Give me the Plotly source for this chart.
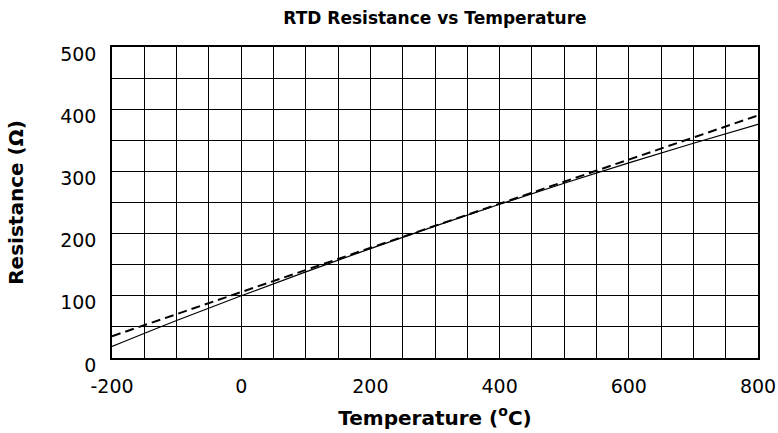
import plotly.graph_objects as go

temp_actual = [-200, -100, 0, 100, 200, 300, 400, 500, 600, 700, 800]
res_actual = [18.5, 60.3, 100.0, 138.5, 175.9, 212.1, 247.1, 280.9, 313.7, 345.3, 375.7]

# Linear approximation (dashed)
temp_linear = [-200, 800]
res_linear = [35, 390]

x_ticks = [-200, 0, 200, 400, 600, 800]
y_ticks = [0, 100, 200, 300, 400, 500]

FONT = "DejaVu Sans"

fig = go.Figure()
fig.add_trace(go.Scatter(x=temp_actual, y=res_actual, mode="lines",
                         line=dict(color="black", width=1.2), line_shape="spline",
                         showlegend=False))
fig.add_trace(go.Scatter(x=temp_linear, y=res_linear, mode="lines",
                         line=dict(color="black", width=2, dash="9px,5px"),
                         showlegend=False))

fig.update_layout(
    width=778, height=433,
    margin=dict(l=112, r=20, t=47, b=75, autoexpand=False),
    paper_bgcolor="white", plot_bgcolor="white",
    title=dict(text="<b>RTD Resistance vs Temperature</b>", x=0.5, xref="paper",
               y=1 - 18 / 433, yref="container", yanchor="middle",
               font=dict(family=FONT, size=17, color="black")),
    font=dict(family=FONT, color="black"),
)
fig.update_xaxes(
    range=[-200, 800], tickvals=x_ticks, ticktext=[str(v) for v in x_ticks],
    showgrid=True, gridcolor="black", gridwidth=1.3,
    minor=dict(dtick=50, tick0=-200, showgrid=True, gridcolor="black", gridwidth=1.3),
    showline=True, linecolor="black", linewidth=1.5, mirror=True,
    zeroline=False, ticks="", ticklabelstandoff=10, automargin=False,
    tickfont=dict(family=FONT, size=19, color="black"),
    title=dict(text="<b>Temperature (<sup>o</sup>C)</b>", standoff=15,
               font=dict(family=FONT, size=20, color="black")),
)
fig.update_yaxes(
    range=[0, 500], tickvals=y_ticks, ticktext=[str(v) for v in y_ticks],
    showgrid=True, gridcolor="black", gridwidth=1.3,
    minor=dict(dtick=50, tick0=0, showgrid=True, gridcolor="black", gridwidth=1.3),
    showline=True, linecolor="black", linewidth=1.5, mirror=True,
    zeroline=False, ticks="", ticklabelstandoff=10, ticklabelshift=7, automargin=False,
    tickfont=dict(family=FONT, size=19, color="black"),
    title=dict(text="<b>Resistance (Ω)</b>", standoff=31,
               font=dict(family=FONT, size=20, color="black")),
)

fig.write_html("out.html", config={"displayModeBar": False},
               post_script="document.body.style.margin='0';")
